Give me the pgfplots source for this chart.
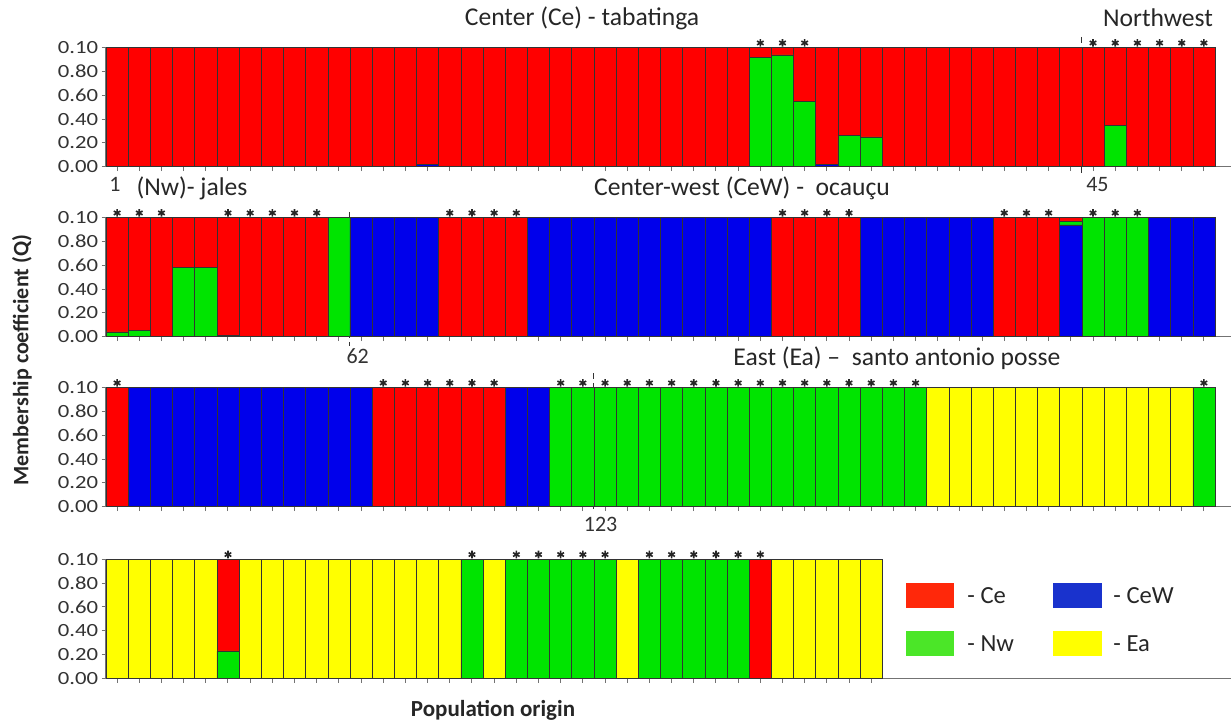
\documentclass[border=0pt]{standalone}
\usepackage{fontspec}
\setmainfont{Carlito}
\newfontfamily\tickfont{Carlito}[FakeStretch=1.22]
\usepackage{pgfplots}
\usepackage{pgfplotstable}
\pgfplotsset{compat=1.18}
\definecolor{cR}{RGB}{255,0,0}
\definecolor{cB}{RGB}{0,0,235}
\definecolor{cG}{RGB}{0,228,0}
\definecolor{cY}{RGB}{255,255,0}
\definecolor{lR}{RGB}{255,40,10}
\definecolor{lB}{RGB}{25,50,205}
\definecolor{lG}{RGB}{75,230,40}
\definecolor{lY}{RGB}{255,255,0}

% columns: x  B(CeW) G(Nw) Y(Ea) R(Ce) S(star)
\pgfplotstableread{
x B G Y R S
1 0 0 0 1 nan
2 0 0 0 1 nan
3 0 0 0 1 nan
4 0 0 0 1 nan
5 0 0 0 1 nan
6 0 0 0 1 nan
7 0 0 0 1 nan
8 0 0 0 1 nan
9 0 0 0 1 nan
10 0 0 0 1 nan
11 0 0 0 1 nan
12 0 0 0 1 nan
13 0 0 0 1 nan
14 0 0 0 1 nan
15 0.02 0 0 0.98 nan
16 0 0 0 1 nan
17 0 0 0 1 nan
18 0 0 0 1 nan
19 0 0 0 1 nan
20 0 0 0 1 nan
21 0 0 0 1 nan
22 0 0 0 1 nan
23 0 0 0 1 nan
24 0 0 0 1 nan
25 0 0 0 1 nan
26 0 0 0 1 nan
27 0 0 0 1 nan
28 0 0 0 1 nan
29 0 0 0 1 nan
30 0 0.92 0 0.08 1.04
31 0 0.94 0 0.06 1.04
32 0 0.55 0 0.45 1.04
33 0.02 0 0 0.98 nan
34 0 0.26 0 0.74 nan
35 0 0.25 0 0.75 nan
36 0 0 0 1 nan
37 0 0 0 1 nan
38 0 0 0 1 nan
39 0 0 0 1 nan
40 0 0 0 1 nan
41 0 0 0 1 nan
42 0 0 0 1 nan
43 0 0 0 1 nan
44 0 0 0 1 nan
45 0 0 0 1 1.04
46 0 0.35 0 0.65 1.04
47 0 0 0 1 1.04
48 0 0 0 1 1.04
49 0 0 0 1 1.04
50 0 0 0 1 1.04
}\rowA

\pgfplotstableread{
x B G Y R S
1 0 0.04 0 0.96 1.04
2 0 0.05 0 0.95 1.04
3 0 0 0 1 1.04
4 0 0.58 0 0.42 nan
5 0 0.58 0 0.42 nan
6 0 0.01 0 0.99 1.04
7 0 0 0 1 1.04
8 0 0 0 1 1.04
9 0 0 0 1 1.04
10 0 0 0 1 1.04
11 0 1 0 0 nan
12 1 0 0 0 nan
13 1 0 0 0 nan
14 1 0 0 0 nan
15 1 0 0 0 nan
16 0 0 0 1 1.04
17 0 0 0 1 1.04
18 0 0 0 1 1.04
19 0 0 0 1 1.04
20 1 0 0 0 nan
21 1 0 0 0 nan
22 1 0 0 0 nan
23 1 0 0 0 nan
24 1 0 0 0 nan
25 1 0 0 0 nan
26 1 0 0 0 nan
27 1 0 0 0 nan
28 1 0 0 0 nan
29 1 0 0 0 nan
30 1 0 0 0 nan
31 0 0 0 1 1.04
32 0 0 0 1 1.04
33 0 0 0 1 1.04
34 0 0 0 1 1.04
35 1 0 0 0 nan
36 1 0 0 0 nan
37 1 0 0 0 nan
38 1 0 0 0 nan
39 1 0 0 0 nan
40 1 0 0 0 nan
41 0 0 0 1 1.04
42 0 0 0 1 1.04
43 0 0 0 1 1.04
44 0.94 0.03 0 0.03 nan
45 0 1 0 0 1.04
46 0 1 0 0 1.04
47 0 1 0 0 1.04
48 1 0 0 0 nan
49 1 0 0 0 nan
50 1 0 0 0 nan
}\rowB

\pgfplotstableread{
x B G Y R S
1 0 0 0 1 1.04
2 1 0 0 0 nan
3 1 0 0 0 nan
4 1 0 0 0 nan
5 1 0 0 0 nan
6 1 0 0 0 nan
7 1 0 0 0 nan
8 1 0 0 0 nan
9 1 0 0 0 nan
10 1 0 0 0 nan
11 1 0 0 0 nan
12 1 0 0 0 nan
13 0 0 0 1 1.04
14 0 0 0 1 1.04
15 0 0 0 1 1.04
16 0 0 0 1 1.04
17 0 0 0 1 1.04
18 0 0 0 1 1.04
19 1 0 0 0 nan
20 1 0 0 0 nan
21 0 1 0 0 1.04
22 0 1 0 0 1.04
23 0 1 0 0 1.04
24 0 1 0 0 1.04
25 0 1 0 0 1.04
26 0 1 0 0 1.04
27 0 1 0 0 1.04
28 0 1 0 0 1.04
29 0 1 0 0 1.04
30 0 1 0 0 1.04
31 0 1 0 0 1.04
32 0 1 0 0 1.04
33 0 1 0 0 1.04
34 0 1 0 0 1.04
35 0 1 0 0 1.04
36 0 1 0 0 1.04
37 0 1 0 0 1.04
38 0 0 1 0 nan
39 0 0 1 0 nan
40 0 0 1 0 nan
41 0 0 1 0 nan
42 0 0 1 0 nan
43 0 0 1 0 nan
44 0 0 1 0 nan
45 0 0 1 0 nan
46 0 0 1 0 nan
47 0 0 1 0 nan
48 0 0 1 0 nan
49 0 0 1 0 nan
50 0 1 0 0 1.04
}\rowC

\pgfplotstableread{
x B G Y R S
1 0 0 1 0 nan
2 0 0 1 0 nan
3 0 0 1 0 nan
4 0 0 1 0 nan
5 0 0 1 0 nan
6 0 0.23 0 0.77 1.04
7 0 0 1 0 nan
8 0 0 1 0 nan
9 0 0 1 0 nan
10 0 0 1 0 nan
11 0 0 1 0 nan
12 0 0 1 0 nan
13 0 0 1 0 nan
14 0 0 1 0 nan
15 0 0 1 0 nan
16 0 0 1 0 nan
17 0 1 0 0 1.04
18 0 0 1 0 nan
19 0 1 0 0 1.04
20 0 1 0 0 1.04
21 0 1 0 0 1.04
22 0 1 0 0 1.04
23 0 1 0 0 1.04
24 0 0 1 0 nan
25 0 1 0 0 1.04
26 0 1 0 0 1.04
27 0 1 0 0 1.04
28 0 1 0 0 1.04
29 0 1 0 0 1.04
30 0 0 0 1 1.04
31 0 0 1 0 nan
32 0 0 1 0 nan
33 0 0 1 0 nan
34 0 0 1 0 nan
35 0 0 1 0 nan
}\rowD

\pgfplotsset{
  geom/.style={x=11.09pt, y=59.5pt, xmin=0.5, xmax=51.2, ymin=0, ymax=1,
    anchor=south west, clip=false, scale only axis=false},
  struct/.style={geom,
    ybar stacked, bar width=1,
    axis x line*=bottom, axis y line*=left,
    axis line style={-, black!55, line width=0.6pt},
    tick align=outside, major tick length=2.2pt,
    tick style={black!55, line width=0.5pt},
    xticklabels={},
    ytick={0,0.2,0.4,0.6,0.8,1},
    yticklabels={0.00,0.20,0.40,0.60,0.80,0.10},
    yticklabel style={font=\tickfont\fontsize{9.3}{10}\selectfont, text=black!80, inner xsep=1.5pt},
    /pgf/number format/assume math mode=true,
    every axis plot/.append style={draw=black!80, line width=0.3pt},
  },
  stars/.style={geom, hide axis},
}

\newcommand{\bars}[1]{%
  \addplot[fill=cB] table[x=x,y=B]{#1};
  \addplot[fill=cG] table[x=x,y=G]{#1};
  \addplot[fill=cY] table[x=x,y=Y]{#1};
  \addplot[fill=cR] table[x=x,y=R]{#1};
}
\newcommand{\starplot}[1]{%
  \addplot[only marks, mark=asterisk, mark size=1.9pt, black!85, line width=0.8pt,
    unbounded coords=discard] table[x=x,y=S]{#1};
}

\begin{document}
\begin{tikzpicture}
\path[use as bounding box] (0,0) rectangle (615.5pt,360pt);

% Row 1
\begin{axis}[struct, at={(53pt,276.65pt)}, xtick={1,...,50}]
\bars{\rowA}
\draw[densely dashed, black!80, line width=0.5pt] (axis cs:44.5,1.09) -- (axis cs:44.5,-0.08);
\node[anchor=north, font=\fontsize{11}{12}\selectfont, text=black!80] at (axis cs:0.9,-0.03) {1};
\node[anchor=north, font=\fontsize{11}{12}\selectfont, text=black!80] at (axis cs:45.2,-0.03) {45};
\end{axis}
\begin{axis}[stars, at={(53pt,276.65pt)}]
\starplot{\rowA}
\end{axis}

% Row 2
\begin{axis}[struct, at={(53pt,191.65pt)}, xtick={1,...,50}]
\bars{\rowB}
\draw[densely dashed, black!80, line width=0.5pt] (axis cs:11.5,1.05) -- (axis cs:11.5,-0.08);
\node[anchor=north, font=\fontsize{11}{12}\selectfont, text=black!80] at (axis cs:11.85,-0.04) {62};
\end{axis}
\begin{axis}[stars, at={(53pt,191.65pt)}]
\starplot{\rowB}
\end{axis}

% Row 3
\begin{axis}[struct, at={(53pt,106.65pt)}, xtick={1,...,50}]
\bars{\rowC}
\draw[densely dashed, black!80, line width=0.5pt] (axis cs:22.5,1.12) -- (axis cs:22.5,-0.05);
\node[anchor=north, font=\fontsize{11}{12}\selectfont, text=black!80] at (axis cs:22.8,-0.03) {123};
\end{axis}
\begin{axis}[stars, at={(53pt,106.65pt)}]
\starplot{\rowC}
\end{axis}

% Row 4
\begin{axis}[struct, at={(53pt,20.85pt)}, xtick={1,...,35}]
\bars{\rowD}
\end{axis}
\begin{axis}[stars, at={(53pt,20.85pt)}]
\starplot{\rowD}
\end{axis}

% Titles
\begin{scope}[every node/.style={font=\fontsize{12.8}{14}\selectfont, text=black!85}]
\node at (291pt,351pt) {Center (Ce) - tabatinga};
\node at (579pt,351pt) {Northwest};
\node at (96pt,266pt) {(Nw)- jales};
\node at (371pt,266pt) {Center-west (CeW) -\ \ ocauçu};
\node at (448.5pt,181pt) {East (Ea) –\ \ santo antonio posse};
\end{scope}

% Axis titles
\node[rotate=90, font=\bfseries\fontsize{11}{12}\selectfont, text=black!85] at (11pt,180pt) {Membership coefficient (Q)};
\node[font=\bfseries\fontsize{11.5}{12}\selectfont, text=black!85] at (246.5pt,5pt) {Population origin};

% Legend
\fill[lR] (453pt,56pt) rectangle (477pt,68.5pt);
\fill[lB] (526.5pt,56pt) rectangle (551pt,68.5pt);
\fill[lG] (453pt,32pt) rectangle (477pt,44.5pt);
\fill[lY] (526.5pt,32pt) rectangle (551pt,44.5pt);
\begin{scope}[every node/.style={anchor=west, font=\fontsize{12.3}{13}\selectfont, text=black!85, inner xsep=0pt}]
\node at (483.5pt,62.25pt) {- Ce};
\node at (556.5pt,62.25pt) {- CeW};
\node at (483.5pt,38.25pt) {- Nw};
\node at (556.5pt,38.25pt) {- Ea};
\end{scope}
\end{tikzpicture}
\end{document}
